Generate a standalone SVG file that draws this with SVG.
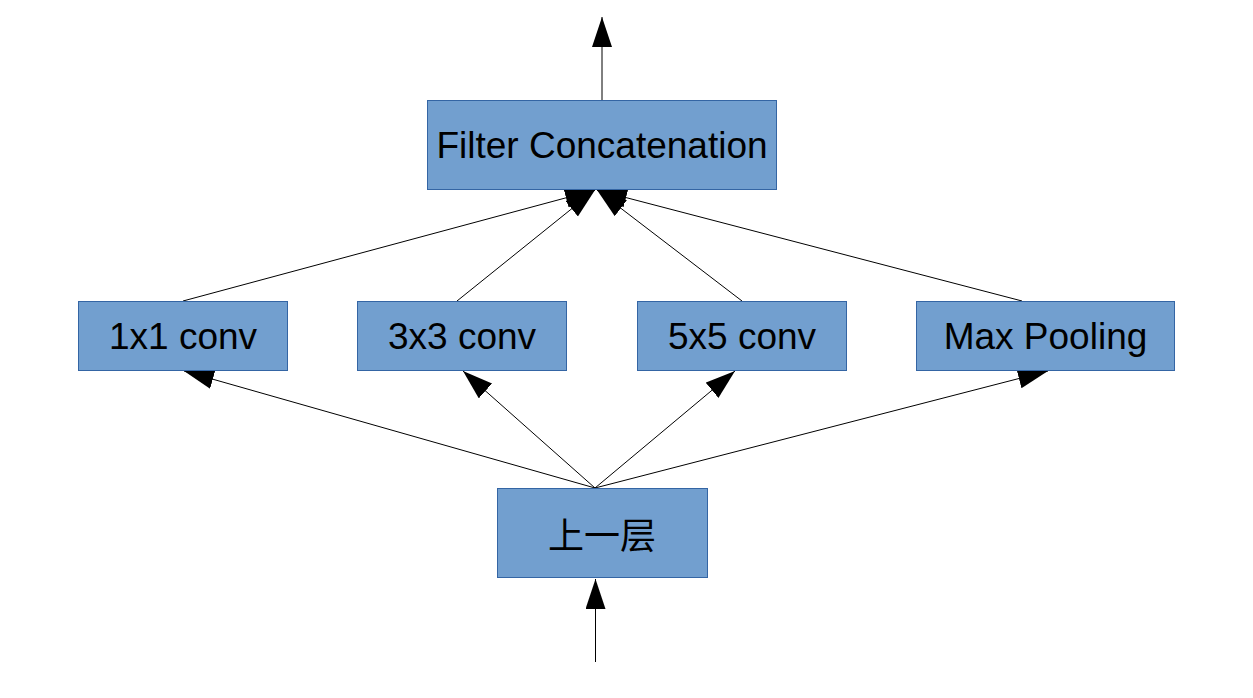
<svg xmlns="http://www.w3.org/2000/svg" width="1253" height="698" viewBox="0 0 1253 698">
  <defs>
    <marker id="arrow" markerUnits="userSpaceOnUse" markerWidth="31" markerHeight="21" refX="30" refY="10" orient="auto" viewBox="0 0 31 21">
      <path d="M0,0 L30,10 L0,20 Z" fill="#000"/>
    </marker>
    <style>
      .box { fill: #729fcf; stroke: #3465a4; stroke-width: 1; }
      .lbl { font-family: "Liberation Sans", Arial, "Noto Sans CJK SC", sans-serif; font-size: 37px; fill: #000; text-anchor: middle; }
      .cjk { font-family: "Noto Sans CJK SC", "Liberation Sans", sans-serif; font-size: 36px; fill: #000; text-anchor: middle; }
      .edge { stroke: #000; stroke-width: 1; fill: none; marker-end: url(#arrow); }
    </style>
  </defs>
  <rect width="1253" height="698" fill="#fff"/>
  <g id="connectors">
    <line class="edge" x1="602" y1="100" x2="602" y2="17"/>
    <line class="edge" x1="183" y1="301" x2="595" y2="190"/>
    <line class="edge" x1="457" y1="301" x2="595" y2="190"/>
    <line class="edge" x1="742" y1="301" x2="597" y2="190"/>
    <line class="edge" x1="1022" y1="301" x2="597" y2="190"/>
    <line class="edge" x1="595" y1="488" x2="184" y2="371"/>
    <line class="edge" x1="595" y1="488" x2="463" y2="371"/>
    <line class="edge" x1="595" y1="488" x2="735" y2="371"/>
    <line class="edge" x1="595" y1="488" x2="1048" y2="371"/>
    <line class="edge" x1="595.5" y1="662" x2="595.5" y2="579"/>
  </g>
  <g id="filter-concat">
    <rect class="box" x="427.5" y="100.5" width="349" height="89"/>
    <text class="lbl" x="602" y="158">Filter Concatenation</text>
  </g>
  <g id="conv1x1">
    <rect class="box" x="78.5" y="301.5" width="209" height="69"/>
    <text class="lbl" x="183" y="349">1x1 conv</text>
  </g>
  <g id="conv3x3">
    <rect class="box" x="357.5" y="301.5" width="209" height="69"/>
    <text class="lbl" x="462" y="349">3x3 conv</text>
  </g>
  <g id="conv5x5">
    <rect class="box" x="637.5" y="301.5" width="209" height="69"/>
    <text class="lbl" x="742" y="349">5x5 conv</text>
  </g>
  <g id="maxpool">
    <rect class="box" x="916.5" y="301.5" width="258" height="69"/>
    <text class="lbl" x="1045.5" y="349">Max Pooling</text>
  </g>
  <g id="prev-layer">
    <rect class="box" x="497.5" y="488.5" width="210" height="89"/>
    <text class="cjk" x="602" y="549">上一层</text>
  </g>
</svg>
